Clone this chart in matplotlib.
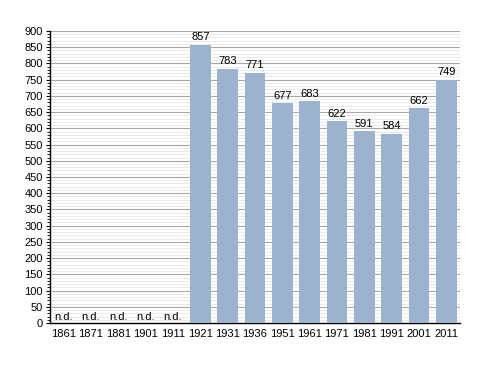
import matplotlib.pyplot as plt
import numpy as np

plt.rcParams['font.family'] = ['Liberation Sans', 'DejaVu Sans']

years = ['1861', '1871', '1881', '1901', '1911', '1921', '1931', '1936',
         '1951', '1961', '1971', '1981', '1991', '2001', '2011']
population = [None, None, None, None, None, 857, 783, 771,
              677, 683, 622, 591, 584, 662, 749]

fig = plt.figure(figsize=(4.88, 3.73), dpi=100)
ax = fig.add_axes([0.1025, 0.134, 0.84, 0.783])

x = np.arange(len(years))
vals = [v if v is not None else 0 for v in population]
ax.bar(x, vals, width=0.76, color='#9bb3cf', zorder=3)

for xi, v in zip(x, population):
    if v is None:
        ax.text(xi, 4, 'n.d.', ha='center', va='bottom', fontsize=8, zorder=4)
    else:
        ax.text(xi, v + 8, str(v), ha='center', va='bottom', fontsize=8, zorder=4)

ax.set_xlim(-0.5, len(years) - 0.5)
ax.set_ylim(0, 900)
ax.set_xticks(x)
ax.set_xticklabels(years, fontsize=8)
ax.set_yticks(np.arange(0, 901, 50))
ax.set_yticks(np.arange(0, 901, 10), minor=True)
ax.tick_params(axis='y', labelsize=8, length=3, width=0.8, pad=2)
ax.tick_params(axis='y', which='minor', length=2, width=0.6)
ax.tick_params(axis='x', length=0, pad=4)

ax.grid(axis='y', which='major', color='#a8a8a8', linewidth=0.8, zorder=0)
ax.grid(axis='y', which='minor', color='#e6e6e6', linewidth=0.6, zorder=0)

for s in ['top', 'right']:
    ax.spines[s].set_visible(False)
ax.spines['left'].set_linewidth(1)
ax.spines['bottom'].set_linewidth(1)

fig.savefig('out.png', dpi=100)
